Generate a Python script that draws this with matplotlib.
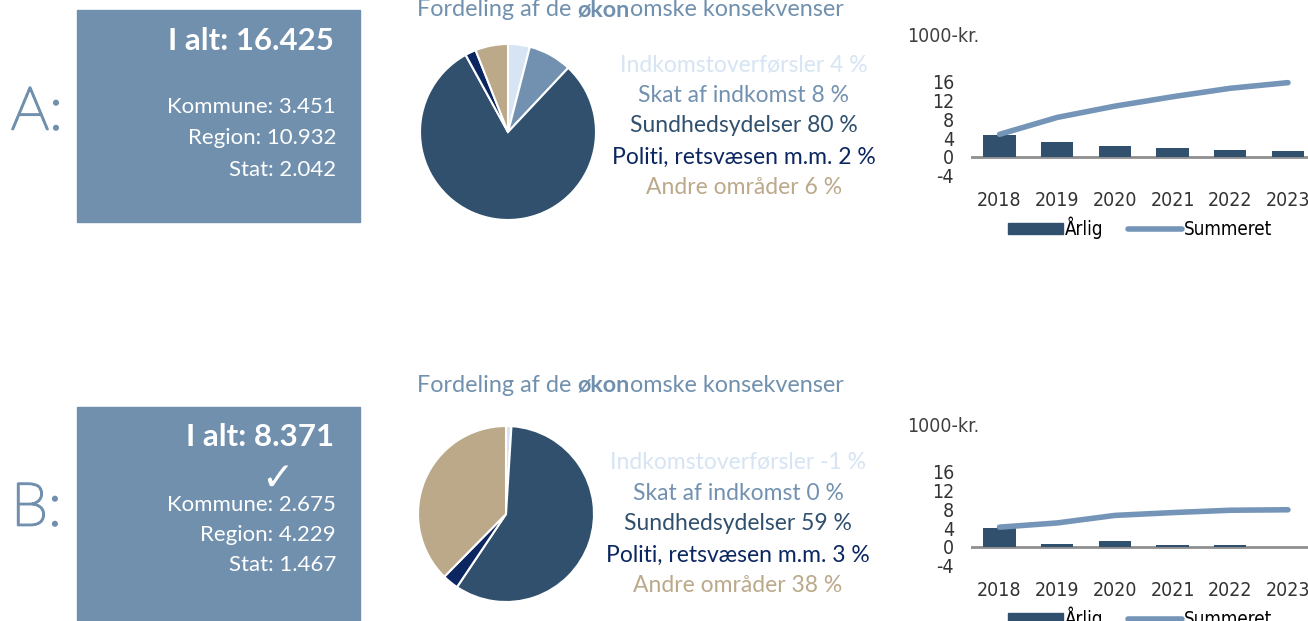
import matplotlib
matplotlib.use('Agg')
import matplotlib.pyplot as plt
import matplotlib.patheffects as pe
from matplotlib.patches import Rectangle
from matplotlib.lines import Line2D

plt.rcParams['axes.unicode_minus'] = False

# data
cats = ['Indkomstoverførsler', 'Skat af indkomst', 'Sundhedsydelser',
        'Politi, retsvæsen m.m.', 'Andre områder']
pct_a = [4, 8, 80, 2, 6]
pct_b = [-1, 0, 59, 3, 38]
years = ['2018', '2019', '2020', '2021', '2022', '2023']
aarlig_a = [4.6, 3.2, 2.3, 1.8, 1.5, 1.2]
summ_a = [4.8, 8.4, 10.8, 12.8, 14.6, 15.8]
aarlig_b = [4.0, 0.7, 1.3, 0.4, 0.4, 0.05]
summ_b = [4.2, 5.1, 6.7, 7.3, 7.8, 7.9]
total_a = 'I alt: 16.425'
total_b = 'I alt: 8.371'
split_a = ['Kommune: 3.451', 'Region: 10.932', 'Stat: 2.042']
split_b = ['Kommune: 2.675', 'Region: 4.229', 'Stat: 1.467']

# colours
box_col = '#7090ae'
slice_cols = ['#d6e4f3', '#7291b1', '#30506e', '#0b2660', '#bba98a']
bar_col = '#30506e'
line_col = '#7595b8'
gtxt = ['Lato', 'DejaVu Sans']
cfont = dict(family='DejaVu Sans', stretch='condensed')

W, H = 1308, 621
def fx(x):
    return x / W
def fy(y):
    return 1 - y / H

fig = plt.figure(figsize=(13.08, 6.21), dpi=100)
bg = fig.add_axes([0, 0, 1, 1])
bg.axis('off')
bg.set_xlim(0, 1)
bg.set_ylim(0, 1)


def panel(dy, label, total, split, pct, aarlig, summ, check=False):
    # letter (thin font, slightly thickened)
    fig.text(fx(11), fy(113 + dy), label, ha='left', va='center', fontsize=43,
             color=box_col, family=gtxt, fontweight='light',
             path_effects=[pe.withStroke(linewidth=1.6, foreground=box_col)])
    # box
    top, bot = (10, 222) if dy == 0 else (407, 630)
    bg.add_patch(Rectangle((fx(77), fy(bot)), (360 - 77) / W, (bot - top) / H,
                           color=box_col, zorder=0))
    ty = 41 if dy == 0 else 437
    fig.text(fx(334), fy(ty), total, ha='right', va='center', fontsize=22.5,
             color='white', fontweight='bold', family=gtxt)
    ys = [107, 138, 170] if dy == 0 else [505, 535, 565]
    for s, yy in zip(split, ys):
        fig.text(fx(336), fy(yy), s, ha='right', va='center', fontsize=16,
                 color='white', family=gtxt)
    if check:
        fig.text(fx(277), fy(479), '\u2713', ha='center', va='center', fontsize=28,
                 color='white', family='DejaVu Sans', fontweight='bold')

    # title with the bold part
    tty = 10 if dy == 0 else 385
    t1 = bg.text(fx(417), fy(tty), 'Fordeling af de ', ha='left', va='center',
                 fontsize=16.8, color=box_col, family=gtxt)
    a2 = bg.annotate('økon', xy=(1, 0), xycoords=t1, va='bottom', ha='left',
                     fontsize=16.8, color=box_col, family=gtxt, fontweight='bold')
    bg.annotate('omske konsekvenser', xy=(1, 0), xycoords=a2, va='bottom', ha='left',
                fontsize=16.8, color=box_col, family=gtxt)

    # pie
    cx, cy, r = (508, 132, 88) if dy == 0 else (506, 514, 88)
    pax = fig.add_axes([fx(cx - r), fy(cy + r), 2 * r / W, 2 * r / H])
    pax.pie([abs(v) for v in pct], colors=slice_cols, startangle=90, counterclock=False,
            wedgeprops=dict(edgecolor='white', linewidth=1.5))
    pax.set_xlim(-1, 1)
    pax.set_ylim(-1, 1)
    pax.axis('off')

    # pie labels
    lx = 744 if dy == 0 else 738
    lys = [65, 96, 126, 157, 188] if dy == 0 else [462, 493, 523, 555, 585]
    for c, v, col, yy in zip(cats, pct, slice_cols, lys):
        fig.text(fx(lx), fy(yy), '%s %d %%' % (c, v), ha='center', va='center',
                 fontsize=16.5, color=col, family=gtxt)

    # bar chart
    y16, ym4 = (81.7, 175.7) if dy == 0 else (471.7, 565.7)
    fig.text(fx(907), fy(y16 - 45), '1000-kr.', ha='left', va='center', fontsize=14,
             color='#404040', **cfont)
    ax = fig.add_axes([fx(970.7), fy(ym4), 346.1 / W, (ym4 - y16) / H])
    x = range(len(years))
    ax.bar(x, aarlig, width=0.56, color=bar_col, zorder=2)
    ax.axhline(0, color='#8f8f8f', lw=2, zorder=1)
    ax.plot(x, summ, color=line_col, lw=4, solid_capstyle='round', zorder=3, clip_on=False)
    ax.set_xlim(-0.5, 5.5)
    ax.set_ylim(-4, 16)
    ax.set_yticks([-4, 0, 4, 8, 12, 16])
    ax.set_xticks(list(x))
    ax.set_xticklabels(years)
    for sp in ax.spines.values():
        sp.set_visible(False)
    ax.tick_params(axis='both', length=0, labelsize=14, labelcolor='#333333')
    ax.tick_params(axis='x', pad=11)
    ax.tick_params(axis='y', pad=12)
    for lab in ax.get_xticklabels() + ax.get_yticklabels():
        lab.set_family(cfont['family'])
        lab.set_stretch(cfont['stretch'])
    ax.patch.set_visible(False)
    handles = [Rectangle((0, 0), 1, 1, color=bar_col),
               Line2D([], [], color=line_col, lw=4, solid_capstyle='round')]
    ax.legend(handles, ['Årlig', 'Summeret'], loc='center', bbox_to_anchor=(0.49, -0.556),
              ncol=2, frameon=False, handlelength=2.9, handleheight=0.45, handletextpad=0.1,
              columnspacing=1.3, prop=dict(size=13.5, **cfont))


panel(0, 'A:', total_a, split_a, pct_a, aarlig_a, summ_a)
panel(396, 'B:', total_b, split_b, pct_b, aarlig_b, summ_b, check=True)

fig.savefig('out.png', dpi=100)
